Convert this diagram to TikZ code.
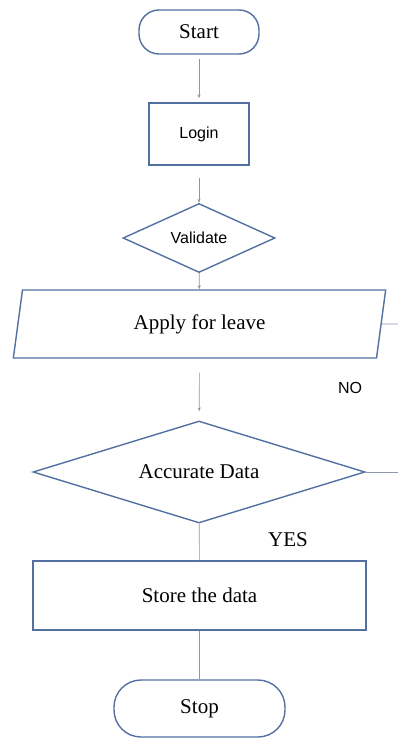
\documentclass[tikz,border=0pt]{standalone}
\usepackage{fontspec}
\setmainfont{Liberation Serif}
\newfontfamily\arialfont{Liberation Sans}
\usepackage{tikz}
\usetikzlibrary{shapes.geometric}
\usetikzlibrary{arrows.meta}
\definecolor{borde}{RGB}{82,112,160}
\definecolor{linea}{RGB}{140,150,168}
\tikzset{
  caja/.style={draw=borde,line width=1.4pt,inner sep=0pt,font=\fontsize{21}{24}\selectfont},
  terminal/.style={caja,rectangle,rounded corners=20pt},
  decision/.style={caja,diamond},
  flecha/.style={draw=linea,line width=0.6pt,-{Stealth[length=4pt,width=3pt]}},
  linea/.style={draw=linea,line width=0.6pt},
}
\begin{document}
\begin{tikzpicture}[x=1pt,y=-1pt]% coordenadas en pixeles
\useasboundingbox (0,0) rectangle (398,738);
\node[terminal,minimum width=120pt,minimum height=44pt] (start) at (199,32) {Start};
\node[caja,minimum width=100pt,minimum height=62pt,font=\arialfont\fontsize{16}{19}\selectfont] (login) at (199,134) {Login};
\node[decision,aspect=2.2,minimum width=152pt,minimum height=69pt,font=\arialfont\fontsize{16}{19}\selectfont] (validate) at (199,238) {Validate};
\node[caja,trapezium,trapezium left angle=80,trapezium right angle=100,trapezium stretches=true,minimum width=373pt,minimum height=68pt] (apply) at (199.5,324) {Apply for leave};
\node[decision,aspect=3.25,minimum width=332pt,minimum height=102pt] (accurate) at (199,472) {Accurate Data};
\node[caja,minimum width=333pt,minimum height=69pt] (store) at (199.5,595.5) {Store the data};
\node[terminal,rounded corners=27pt,minimum width=171pt,minimum height=57pt] (stop) at (199.5,708.5) {Stop};
% etiquetas
\node[font=\arialfont\fontsize{16}{19}\selectfont] (no) at (350,388) {NO};
\node[font=\fontsize{21}{24}\selectfont] (yes) at (288,540) {YES};
% salidas cortadas por el borde
\coordinate (salidaA) at (398,324);
\coordinate (salidaB) at (398,472);
\draw[flecha,shorten <=4pt,shorten >=4pt] (start) -- (login);
\draw[flecha,shorten <=12pt] (login) -- (validate);
\draw[flecha] (validate) -- (apply);
\draw[flecha,shorten <=14pt,shorten >=9pt] (apply) -- (accurate);
\draw[linea] (accurate) -- (store);
\draw[linea] (store) -- (stop);
\draw[linea] (apply.east) -- (salidaA);
\draw[linea] (accurate.east) -- (salidaB);
\end{tikzpicture}
\end{document}
